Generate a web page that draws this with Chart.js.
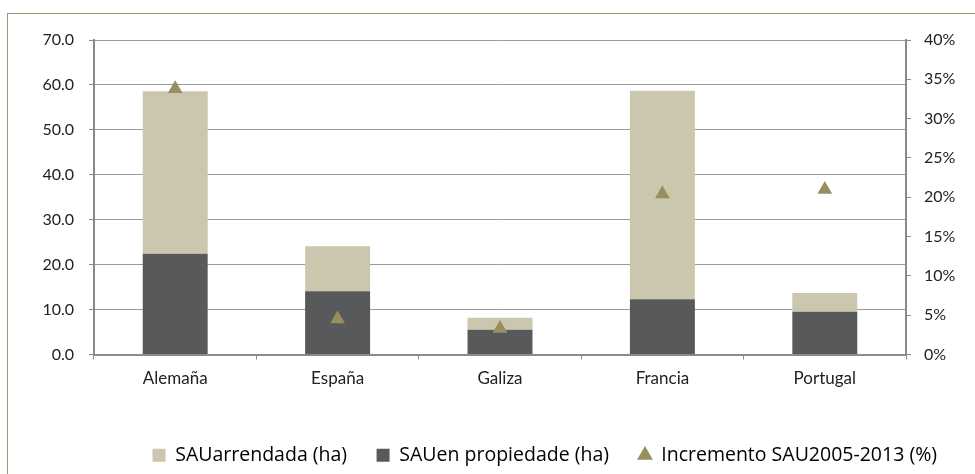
<!DOCTYPE html>
<html>
<head>
<meta charset="utf-8">
<script src="https://cdn.jsdelivr.net/npm/chart.js@4.4.1/dist/chart.umd.min.js"></script>
<style>
  html, body { margin: 0; padding: 0; background: #ffffff; }
  #wrap { position: relative; width: 975px; height: 474px; overflow: hidden; }
  #frame { position: absolute; left: 7px; top: 13px; width: 1000px; height: 500px;
           border-left: 1px solid #9b9673; border-top: 1px solid #9b9673; }
  canvas { position: absolute; left: 0; top: 0; }
</style>
</head>
<body>
<div id="wrap">
  <div id="frame"></div>
  <canvas id="c" width="975" height="474"></canvas>
</div>
<script>
const categories = ['Alemaña', 'España', 'Galiza', 'Francia', 'Portugal'];
const sauPropiedade = [22.4, 14.1, 5.5, 12.3, 9.5];
const sauArrendada = [36.2, 10.0, 2.7, 46.4, 4.2];
const incremento = [33.8, 4.5, 3.3, 20.4, 21.0];
const leftTicks = [0, 10, 20, 30, 40, 50, 60, 70];
const rightTicks = [0, 5, 10, 15, 20, 25, 30, 35, 40];
const legendOrder = ['SAUarrendada (ha)', 'SAUen propiedade (ha)', 'Incremento SAU2005-2013 (%)'];

const FONT = 'Lato';
const LEGEND_FONT = 'Open Sans';
const axisGrey = '#8a8a8a';

new Chart(document.getElementById('c'), {
  data: {
    labels: categories,
    datasets: [
      {
        type: 'line',
        label: 'Incremento SAU2005-2013 (%)',
        data: incremento,
        yAxisID: 'y1',
        showLine: false,
        pointStyle: 'triangle',
        pointRadius: 8.5,
        pointBackgroundColor: '#978f5f',
        pointBorderColor: '#978f5f',
        pointBorderWidth: 0,
        backgroundColor: '#978f5f',
        borderColor: '#978f5f',
        order: 0
      },
      {
        type: 'bar',
        label: 'SAUen propiedade (ha)',
        data: sauPropiedade,
        backgroundColor: '#58595b',
        borderWidth: 0,
        yAxisID: 'y',
        stack: 's',
        barPercentage: 0.4,
        categoryPercentage: 1.0,
        order: 1
      },
      {
        type: 'bar',
        label: 'SAUarrendada (ha)',
        data: sauArrendada,
        backgroundColor: '#cbc6ae',
        borderWidth: 0,
        yAxisID: 'y',
        stack: 's',
        barPercentage: 0.4,
        categoryPercentage: 1.0,
        order: 1
      }
    ]
  },
  options: {
    responsive: false,
    animation: false,
    layout: { padding: { left: 0, right: 8.5, top: 40, bottom: -1 } },
    plugins: {
      tooltip: { enabled: false },
      legend: {
        position: 'bottom',
        align: 'end',
        labels: {
          usePointStyle: true,
          font: { family: LEGEND_FONT, size: 19.5 },
          color: '#222222',
          padding: 29.5,
          boxWidth: 13,
          boxHeight: 13,
          sort: (a, b) => legendOrder.indexOf(a.text) - legendOrder.indexOf(b.text),
          generateLabels: (chart) => chart.data.datasets.map((ds, i) => ({
            text: ds.label,
            fillStyle: ds.type === 'line' ? '#978f5f' : ds.backgroundColor,
            strokeStyle: ds.type === 'line' ? '#978f5f' : ds.backgroundColor,
            lineWidth: 0,
            pointStyle: ds.type === 'line' ? 'triangle' : 'rect',
            datasetIndex: i,
            hidden: false
          }))
        }
      }
    },
    scales: {
      x: {
        stacked: true,
        offset: true,
        grid: {
          display: true,
          offset: true,
          drawOnChartArea: false,
          drawTicks: true,
          tickLength: 5,
          tickColor: axisGrey,
          tickWidth: 1
        },
        border: { display: true, color: axisGrey, width: 2 },
        ticks: { font: { family: FONT, size: 17 }, color: '#222222', padding: 9 },
        afterFit: (s) => { s.height = 61.5; }
      },
      y: {
        position: 'left',
        stacked: true,
        min: 0,
        max: 70,
        afterBuildTicks: (s) => { s.ticks = leftTicks.map(v => ({ value: v })); },
        grid: {
          color: '#9a9a9a',
          lineWidth: 1,
          borderDash: [1, 2],
          drawTicks: true,
          tickLength: 5,
          tickColor: axisGrey,
          tickWidth: 1,
          tickBorderDash: []
        },
        border: { display: true, color: axisGrey, width: 2 },
        ticks: {
          font: { family: FONT, size: 16 },
          color: '#222222',
          padding: 15,
          callback: (v) => Number(v).toFixed(1)
        },
        afterFit: (s) => { s.width = 94; }
      },
      y1: {
        position: 'right',
        min: 0,
        max: 40,
        afterBuildTicks: (s) => { s.ticks = rightTicks.map(v => ({ value: v })); },
        grid: {
          drawOnChartArea: false,
          drawTicks: true,
          tickLength: 5,
          tickColor: axisGrey,
          tickWidth: 1
        },
        border: { display: true, color: axisGrey, width: 2 },
        ticks: {
          font: { family: FONT, size: 16 },
          color: '#222222',
          padding: 13,
          callback: (v) => v + '%'
        },
        afterFit: (s) => { s.width = 60.5; }
      }
    }
  }
});
</script>
</body>
</html>
